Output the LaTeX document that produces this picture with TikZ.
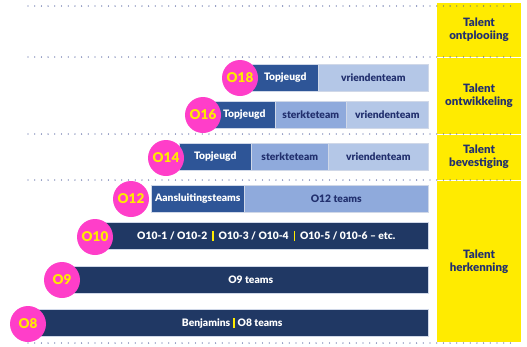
\documentclass[tikz,border=0pt]{standalone}
\usepackage{fontspec}
\setmainfont{Lato}[BoldFont={Lato Black}]
\definecolor{ylw}{HTML}{FFEB00}
\definecolor{mag}{HTML}{FF3EC9}
\definecolor{navytxt}{HTML}{22306E}
\definecolor{dkblue}{HTML}{2E5597}
\definecolor{midblue}{HTML}{8FAADC}
\definecolor{ltblue}{HTML}{B4C7E7}
\definecolor{navy}{HTML}{203864}
\definecolor{dotc}{HTML}{4A5A9A}
\definecolor{barline}{HTML}{D0D8E8}
\newcommand{\ysep}[1]{\hspace{#1}\textcolor{ylw}{\rule[-2pt]{1.4pt}{10.5pt}}\hspace{#1}}
\begin{document}
\begin{tikzpicture}[x=1pt,y=-1pt,
  seg/.style={draw=barline, line width=0.5pt, minimum height=27pt, inner sep=0pt, anchor=north west, font=\bfseries\fontsize{10.3}{11}\selectfont},
  dk/.style={seg, fill=dkblue, text=white},
  md/.style={seg, fill=midblue, text=navytxt},
  lt/.style={seg, fill=ltblue, text=navytxt},
  nv/.style={seg, fill=navy, text=white},
  badge/.style={circle, fill=mag, text=ylw, minimum size=36pt, inner sep=0pt, font=\bfseries\fontsize{13.5}{13.5}\selectfont},
  phase/.style={align=center, text=navytxt, font=\bfseries\fontsize{11.5}{13}\selectfont},
  dotline/.style={dotc, line width=1.3pt, line cap=round, dash pattern=on 0pt off 6.7pt},
  sepline/.style={white, line width=0.6pt}]
\useasboundingbox (0,0) rectangle (527,346);
% yellow column
\fill[ylw] (437,3) rectangle (521,342);
\foreach \yy in {57,134,180} \draw[sepline] (437,\yy) -- (521,\yy);
% dotted separators
\foreach \yy in {6,57,134,180} \draw[dotline] (28,\yy) -- (515,\yy);
\draw[dotline] (28,343) -- (512,343);
% phase labels
\node[phase] (p1) at (479,30) {Talent\\ontplooiing};
\node[phase] (p2) at (479,96) {Talent\\ontwikkeling};
\node[phase] (p3) at (479,157) {Talent\\bevestiging};
\node[phase] (p4) at (479,262) {Talent\\herkenning};
% O18
\node[dk, minimum width=66pt] (a1) at (252,64) {Topjeugd};
\node[lt, minimum width=110pt] (a2) at (318,64) {vriendenteam};
\node[badge] (c18) at (240,78) {O18};
% O16
\node[dk, minimum width=62pt] (b1) at (213,101) {Topjeugd};
\node[md, minimum width=71pt] (b2) at (275,101) {sterkteteam};
\node[lt, minimum width=82pt] (b3) at (346,101) {vriendenteam};
\node[badge] (c16) at (203,115) {O16};
% O14
\node[dk, minimum width=72pt] (d1) at (179,143) {Topjeugd};
\node[md, minimum width=77pt] (d2) at (251,143) {sterkteteam};
\node[lt, minimum width=100pt] (d3) at (328,143) {vriendenteam};
\node[badge] (c14) at (166,158) {O14};
% O12
\node[dk, minimum width=93pt] (e1) at (151,185) {Aansluitingsteams};
\node[md, minimum width=184pt] (e2) at (244,185) {O12 teams};
\node[badge] (c12) at (131,199) {O12};
% O10
\node[nv, minimum width=324pt] (f1) at (104,222) {O10-1 / O10-2\ysep{5pt}O10-3 / O10-4\ysep{5pt}O10-5 / 010-6 – etc.};
\node[badge] (c10) at (95,237) {O10};
% O9
\node[nv, minimum width=355pt] (g1) at (73,266) {O9 teams};
\node[badge] (c9) at (62,280) {O9};
% O8
\node[nv, minimum width=392pt] (h1) at (36,309) {Benjamins\ysep{3pt}O8 teams};
\node[badge] (c8) at (28,324) {O8};
\end{tikzpicture}
\end{document}
